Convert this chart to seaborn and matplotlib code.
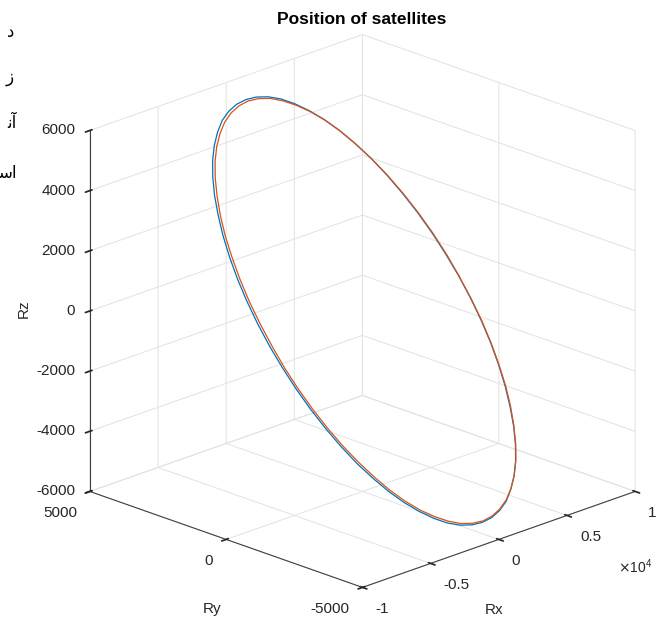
import numpy as np
import matplotlib
matplotlib.use('Agg')
import matplotlib.pyplot as plt
import seaborn as sns

# ---- data (positions, in units of 10 km) ----
sat1_x = [718,713,701,681,654,620,579,531,478,420,357,291,221,149,75,0,-74,-147,-219,-289,-355,-417,-474,-527,-573,-613,-647,-673,-692,-703,-706,-701,-689,-669,-642,-608,-567,-519,-466,-408,-345,-279,-209,-137,-63,12,86,159,231,301,367,429,486,539,585,625,659,685,704,715]
sat1_y = [6,51,96,139,181,221,258,293,324,351,375,395,410,421,427,428,425,417,405,387,366,341,312,279,243,205,164,122,78,33,-12,-57,-102,-145,-187,-227,-264,-299,-330,-357,-381,-401,-416,-427,-433,-434,-431,-423,-411,-393,-372,-347,-318,-285,-249,-211,-170,-128,-84,-39]
sat1_z = [0,59,118,175,230,283,333,379,421,458,490,517,539,554,563,566,563,554,539,517,490,458,421,379,333,283,230,175,118,59,0,-59,-118,-175,-230,-283,-333,-379,-421,-458,-490,-517,-539,-554,-563,-566,-563,-554,-539,-517,-490,-458,-421,-379,-333,-283,-230,-175,-118,-59]

sat2_x = [717,713,701,681,654,620,579,532,480,422,359,293,224,153,79,6,-68,-141,-213,-281,-347,-409,-466,-518,-564,-604,-637,-663,-681,-692,-695,-691,-679,-659,-632,-598,-557,-510,-458,-400,-337,-271,-202,-131,-57,16,90,163,235,303,369,431,488,540,586,626,659,685,703,714]
sat2_y = [4,48,92,135,177,216,253,288,319,346,370,389,404,415,421,423,419,411,399,382,361,336,307,274,239,201,160,118,75,30,-15,-59,-103,-146,-188,-227,-264,-299,-330,-357,-381,-400,-415,-426,-432,-434,-430,-422,-410,-393,-372,-347,-318,-285,-250,-212,-171,-129,-86,-41]
sat2_z = [0,59,117,174,229,281,330,376,418,455,487,513,534,550,559,562,559,550,534,513,487,455,418,376,330,281,229,174,117,59,0,-59,-117,-174,-229,-281,-330,-376,-418,-455,-487,-513,-534,-550,-559,-562,-559,-550,-534,-513,-487,-455,-418,-376,-330,-281,-229,-174,-117,-59]

x_ticks = [-10000, -5000, 0, 5000, 10000]
x_tick_labels = ['-1', '-0.5', '0', '0.5', '1']
y_ticks = [-5000, 0, 5000]
y_tick_labels = ['-5000', '0', '5000']
z_ticks = [-6000, -4000, -2000, 0, 2000, 4000, 6000]
z_tick_labels = ['-6000', '-4000', '-2000', '0', '2000', '4000', '6000']
side_text = ['\u062f', '\u0632', '\ufee7\ufe81', '\ufeb3\ufe8d']   # Persian fragments at the left edge

UNIT = 10  # km per stored unit

sns.set_theme(style='white')
plt.rcParams['font.family'] = ['Liberation Sans', 'DejaVu Sans']
plt.rcParams['axes.unicode_minus'] = False

TXT = '#262626'
fig = plt.figure(figsize=(6.61, 6.24), dpi=100)
ax = fig.add_axes([0.04466, -0.03194, 0.98094, 1.03910], projection='3d')

for xs, ys, zs, col in ((sat1_x, sat1_y, sat1_z, '#0072BD'), (sat2_x, sat2_y, sat2_z, '#D95319')):
    X = np.array(xs + xs[:1]) * UNIT
    Y = np.array(ys + ys[:1]) * UNIT
    Z = np.array(zs + zs[:1]) * UNIT
    ax.plot(X, Y, Z, color=col, lw=0.9)

ax.set_xlim(-1e4, 1e4); ax.set_ylim(-5000, 5000); ax.set_zlim(-6000, 6000)
ax.set_proj_type('ortho')
ax.view_init(elev=20.6, azim=-135)
ax.set_box_aspect((1, 1, 1))
ax.set_xticks(x_ticks); ax.set_xticklabels(x_tick_labels)
ax.set_yticks(y_ticks); ax.set_yticklabels(y_tick_labels)
ax.set_zticks(z_ticks); ax.set_zticklabels(z_tick_labels)
ax.grid(True)
for axis in (ax.xaxis, ax.yaxis, ax.zaxis):
    axis.set_pane_color((1, 1, 1, 0))
    axis.pane.set_edgecolor('#dedede')
    axis._axinfo['grid']['color'] = '#e2e2e2'
    axis._axinfo['grid']['linewidth'] = 0.7
    axis.line.set_color('#404040')
    axis.line.set_linewidth(0.8)
    axis._axinfo['tick']['color'] = '#404040'
ax.tick_params(axis='both', labelsize=11, labelcolor=TXT)
ax.tick_params(axis='z', pad=-1.5)
for lab in ax.get_xticklabels():
    lab.set_ha('left'); lab.set_va('center')
for lab in ax.get_yticklabels():
    lab.set_ha('right'); lab.set_va('center')
for lab in ax.get_zticklabels():
    lab.set_ha('right'); lab.set_va('center')

W, H = 661, 624
fig.text(362 / W, 1 - 20 / H, 'Position of satellites', ha='center', va='center',
         fontsize=12.5, fontweight='bold', color='black')
fig.text(24 / W, 1 - 309 / H, 'Rz', rotation=90, ha='center', va='center', fontsize=11, color=TXT)
fig.text(212 / W, 1 - 609 / H, 'Ry', ha='center', va='center', fontsize=11, color=TXT)
fig.text(494 / W, 1 - 610 / H, 'Rx', ha='center', va='center', fontsize=11, color=TXT)
fig.text(635 / W, 1 - 567 / H, r'$\times\mathregular{10^4}$', ha='center', va='center',
         fontsize=10, color=TXT)
for s, yy, xr in zip(side_text, (32, 77, 123, 173), (14, 14, 17, 17)):
    fig.text(xr / W, 1 - yy / H, s, ha='right', va='center', fontsize=12,
             family=['DejaVu Sans'], color='black')

fig.savefig('out.png')
